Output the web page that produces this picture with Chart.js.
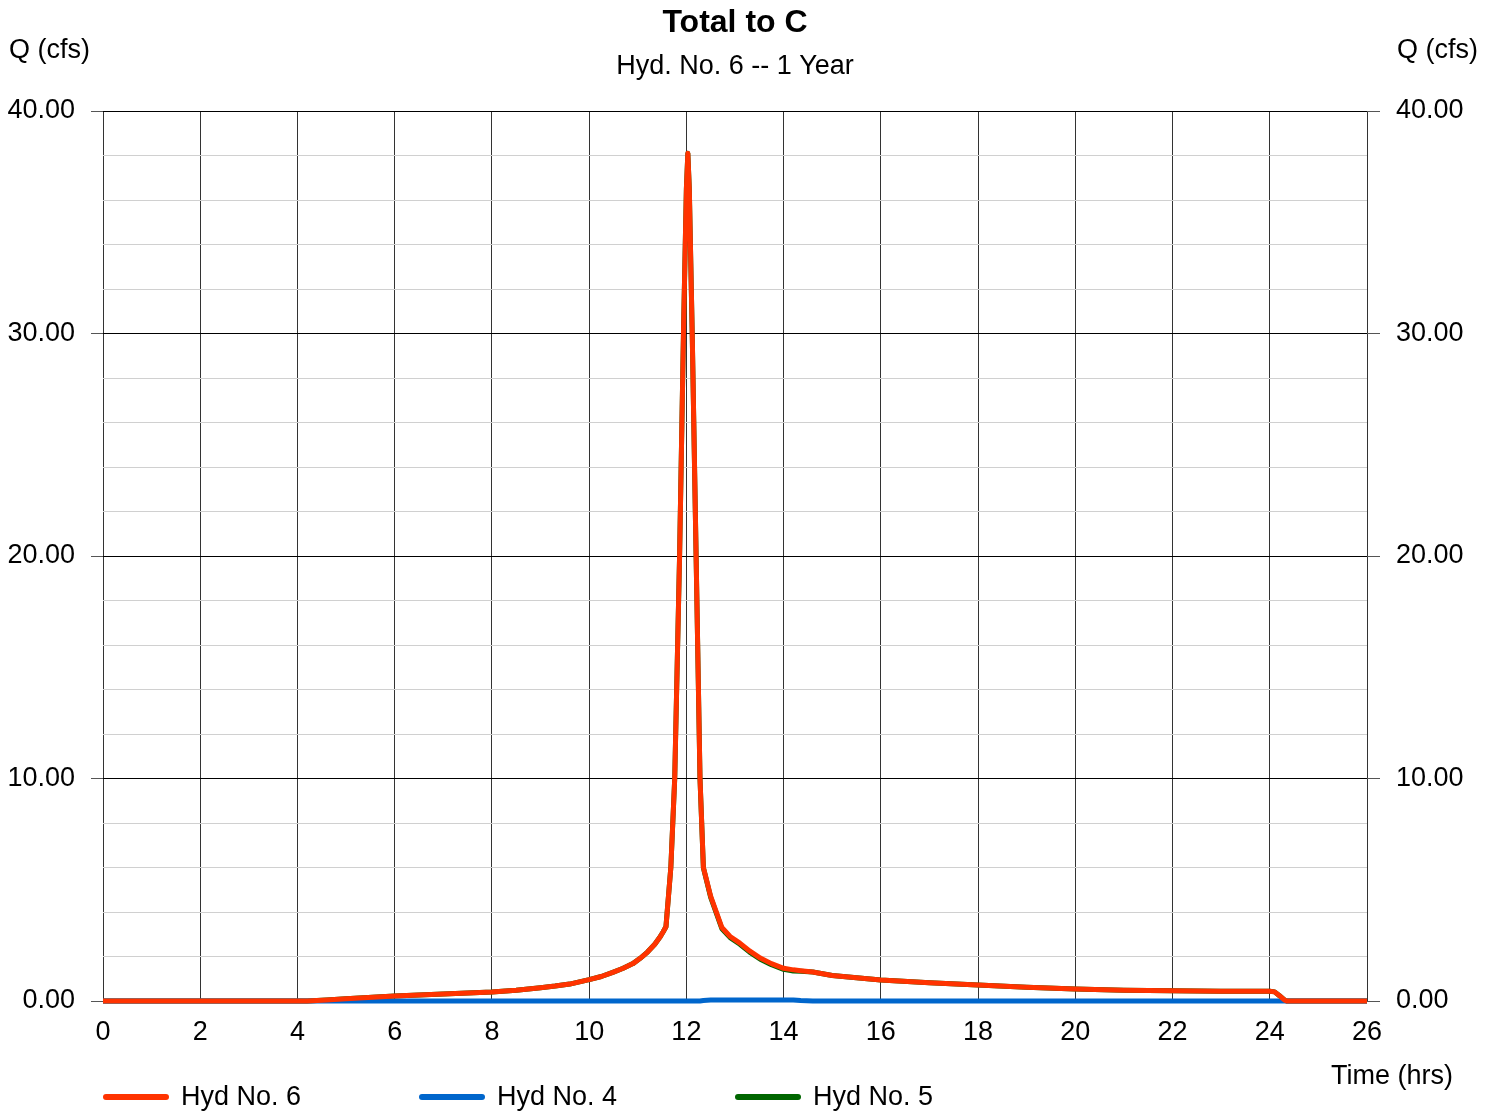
<!DOCTYPE html>
<html>
<head>
<meta charset="utf-8">
<script src="https://cdn.jsdelivr.net/npm/chart.js@4/dist/chart.umd.min.js"></script>
<style>
  html, body { margin: 0; padding: 0; background: #fff; }
  #wrap { width: 1497px; height: 1112px; }
</style>
</head>
<body>
<div id="wrap"><canvas id="hydroChart" width="1497" height="1112"></canvas></div>
<script>
// time in hours
const hours = [
  0, 2, 4, 4.2, 4.6, 5, 6, 7, 8, 8.5,
  9, 9.3, 9.6, 10, 10.25, 10.5, 10.7, 10.9, 11.05, 11.2,
  11.35, 11.45, 11.52, 11.58, 11.68, 11.76, 11.86, 11.94, 12.0, 12.03,
  12.06, 12.12, 12.2, 12.28, 12.35, 12.5, 12.73, 12.9, 13.1, 13.3,
  13.52, 13.75, 14.0, 14.2, 14.35, 14.6, 15, 16, 17, 18,
  19, 20, 21, 22, 23, 24, 24.1, 24.2, 24.3, 24.35,
  26];

// Q (cfs)
const hyd6 = [
  0, 0, 0, 0, 0.05, 0.1, 0.22, 0.31, 0.40, 0.48,
  0.6, 0.67, 0.76, 0.96, 1.1, 1.3, 1.47, 1.68, 1.92, 2.2,
  2.55, 2.85, 3.1, 3.34, 6.0, 10, 20, 30, 36.5, 38.1,
  36.5, 30, 20, 10, 6.0, 4.7, 3.3, 2.9, 2.6, 2.25,
  1.93, 1.68, 1.47, 1.4, 1.36, 1.3, 1.15, 0.94, 0.82, 0.72,
  0.62, 0.54, 0.48, 0.46, 0.44, 0.44, 0.41, 0.24, 0.05, 0,
  0];
const hyd4 = [
  0, 0, 0, 0, 0, 0, 0, 0, 0, 0,
  0, 0, 0, 0, 0, 0, 0, 0, 0, 0,
  0, 0, 0, 0, 0, 0, 0, 0, 0, 0,
  0, 0, 0, 0, 0.02, 0.04, 0.05, 0.05, 0.05, 0.05,
  0.05, 0.05, 0.05, 0.05, 0.02, 0, 0, 0, 0, 0,
  0, 0, 0, 0, 0, 0, 0, 0, 0, 0,
  0];
const hyd5 = [
  0, 0, 0, 0, 0.05, 0.1, 0.22, 0.31, 0.40, 0.48,
  0.6, 0.67, 0.76, 0.96, 1.1, 1.3, 1.47, 1.68, 1.92, 2.2,
  2.55, 2.85, 3.1, 3.34, 6.0, 10, 20, 30, 36.5, 38.1,
  36.5, 30, 20, 10, 5.98, 4.66, 3.25, 2.85, 2.55, 2.2,
  1.88, 1.63, 1.42, 1.35, 1.34, 1.3, 1.15, 0.94, 0.82, 0.72,
  0.62, 0.54, 0.48, 0.46, 0.44, 0.44, 0.41, 0.24, 0.05, 0,
  0];

const seriesNames = ["Hyd No. 6", "Hyd No. 4", "Hyd No. 5"];
const seriesColors = ["#ff3300", "#0066cc", "#006600"];

const FONT = "'Liberation Sans', Arial, sans-serif";

const toPoints = vals => hours.map((h, i) => ({ x: h, y: vals[i] }));

const majorOnly = v => (v % 10 === 0 ? v.toFixed(2) : "");

// titles, axis captions and legend
const textPlugin = {
  id: "textPlugin",
  afterDraw(chart) {
    const ctx = chart.ctx;
    const area = chart.chartArea;
    const cx = (area.left + area.right) / 2;
    ctx.save();
    ctx.fillStyle = "#000";
    ctx.textBaseline = "middle";

    ctx.textAlign = "center";
    ctx.font = "bold 32px " + FONT;
    ctx.fillText("Total to C", cx, 23);
    ctx.font = "27px " + FONT;
    ctx.fillText("Hyd. No. 6 -- 1 Year", cx, 67);

    ctx.textAlign = "left";
    ctx.fillText("Q (cfs)", 9, 51);
    ctx.textAlign = "right";
    ctx.fillText("Q (cfs)", 1478, 51);
    ctx.fillText("Time (hrs)", 1453, 1077);

    // legend
    ctx.textAlign = "left";
    seriesNames.forEach((name, i) => {
      const x0 = 103 + i * 316;
      ctx.strokeStyle = seriesColors[i];
      ctx.lineWidth = 6;
      ctx.lineCap = "round";
      ctx.beginPath();
      ctx.moveTo(x0 + 3, 1097);
      ctx.lineTo(x0 + 63, 1097);
      ctx.stroke();
      ctx.fillText(name, x0 + 78, 1098);
    });
    ctx.restore();
  }
};

document.addEventListener("DOMContentLoaded", () => {
  const canvas = document.getElementById("hydroChart");

  new Chart(canvas.getContext("2d"), {
    type: "line",
    data: {
      datasets: seriesNames.map((name, i) => ({
        label: name,
        data: toPoints([hyd6, hyd4, hyd5][i]),
        borderColor: seriesColors[i],
        borderWidth: 5,
        borderJoinStyle: "round",
        pointRadius: 0,
        tension: 0,
        clip: false,
        yAxisID: "y"
      }))
    },
    options: {
      responsive: false,
      animation: false,
      devicePixelRatio: 1,
      layout: { padding: { top: 111, left: 0, right: 0, bottom: 0 } },
      plugins: {
        legend: { display: false },
        title: { display: false },
        tooltip: { enabled: false }
      },
      scales: {
        x: {
          type: "linear",
          min: 0,
          max: 26,
          afterFit: s => { s.height = 111; },
          ticks: {
            stepSize: 2,
            color: "#000",
            font: { family: FONT, size: 27 },
            padding: 15,
            maxRotation: 0,
            autoSkip: false
          },
          grid: {
            color: "#333",
            lineWidth: 1,
            drawTicks: false
          },
          border: { display: false }
        },
        y: {
          position: "left",
          min: 0,
          max: 40,
          afterFit: s => { s.width = 103; },
          ticks: {
            stepSize: 2,
            color: "#000",
            font: { family: FONT, size: 27 },
            padding: 16,
            autoSkip: false,
            callback: majorOnly
          },
          grid: {
            color: ctx => (ctx.tick && ctx.tick.value % 10 === 0 ? "#000" : "#d0d0d0"),
            tickColor: ctx => (ctx.tick && ctx.tick.value % 10 === 0 ? "#555" : "rgba(0,0,0,0)"),
            tickLength: 12,
            lineWidth: 1
          },
          border: { display: false }
        },
        y2: {
          position: "right",
          min: 0,
          max: 40,
          afterFit: s => { s.width = 130; },
          ticks: {
            stepSize: 2,
            color: "#000",
            font: { family: FONT, size: 27 },
            padding: 16,
            autoSkip: false,
            callback: majorOnly
          },
          grid: {
            drawOnChartArea: false,
            tickColor: ctx => (ctx.tick && ctx.tick.value % 10 === 0 ? "#555" : "rgba(0,0,0,0)"),
            tickLength: 13
          },
          border: { display: false }
        }
      }
    },
    plugins: [textPlugin]
  });
});
</script>
</body>
</html>
